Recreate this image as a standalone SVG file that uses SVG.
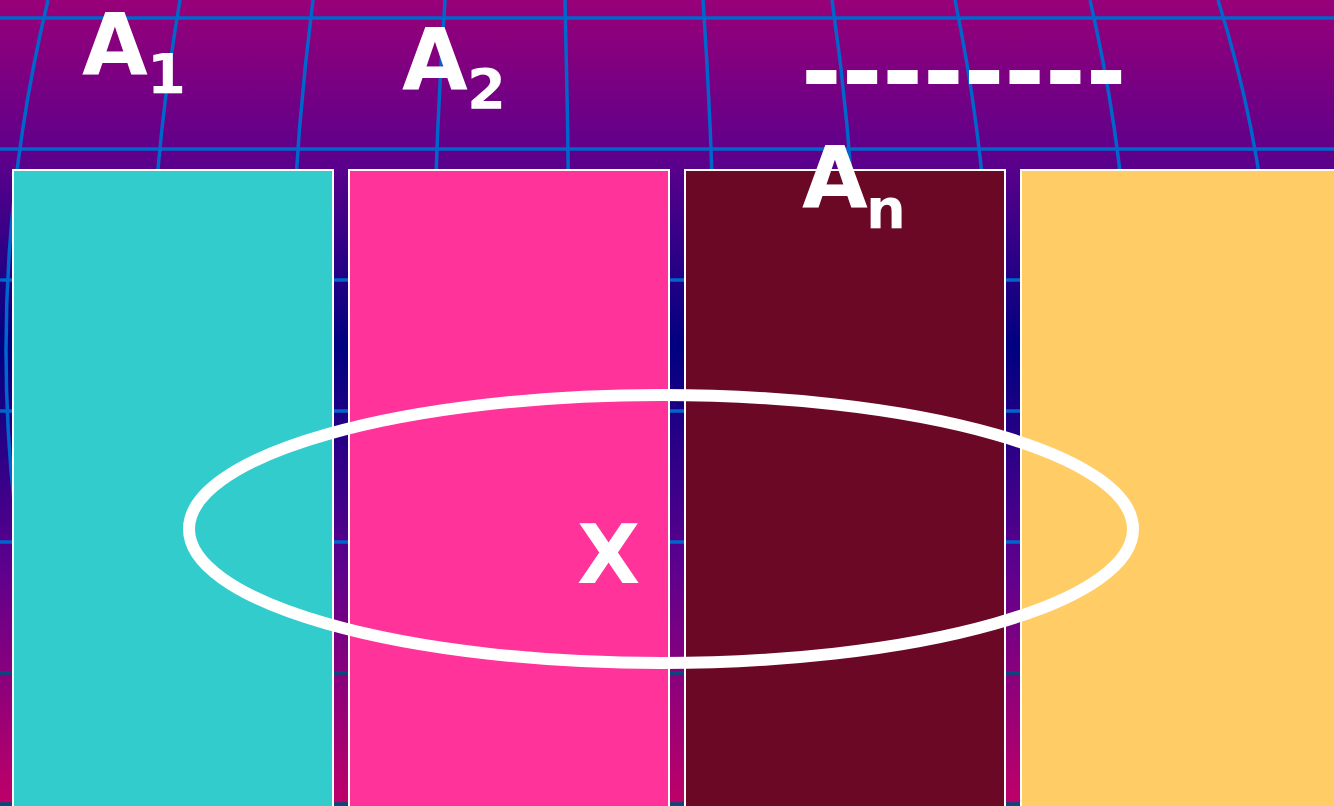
<svg xmlns="http://www.w3.org/2000/svg" width="1334" height="806" viewBox="0 0 1334 806">
  <defs>
    <linearGradient id="bg" x1="0" y1="0" x2="0" y2="806" gradientUnits="userSpaceOnUse">
      <stop offset="0" stop-color="#980078"/>
      <stop offset="0.2" stop-color="#5c008c"/>
      <stop offset="0.43" stop-color="#000080"/>
      <stop offset="0.7" stop-color="#5c008e"/>
      <stop offset="1" stop-color="#c00068"/>
    </linearGradient>
  </defs>
  <style>
    .grid { fill: none; stroke: #0066cc; stroke-width: 3.5; }
    .gridDark { fill: none; stroke: #004c7c; stroke-width: 3.5; }
    .col { stroke: #ffffff; stroke-width: 2; }
    .lbl { font-family: "DejaVu Sans", Verdana, sans-serif; font-weight: bold; fill: #ffffff; }
    .big { font-size: 85px; }
    .sub { font-size: 56px; }
  </style>
  <rect x="0" y="0" width="1334" height="806" fill="url(#bg)"/>
  <g id="grid">
    <path class="grid" d="M0 18H1334M0 149H1334M0 280H1334M0 411H1334M0 542H1334"/>
    <path class="gridDark" d="M0 673H1334M0 804H1334"/>
    <path class="grid" d="M48 0Q-36 350 48 700T48 1400"/>
    <path class="grid" d="M180 0Q120 350 180 700T180 1400"/>
    <path class="grid" d="M313 0Q268 350 313 700T313 1400"/>
    <path class="grid" d="M445 0Q421 350 445 700T445 1400"/>
    <path class="grid" d="M565 0Q574 350 565 700T565 1400"/>
    <path class="grid" d="M703 0Q727 350 703 700T703 1400"/>
    <path class="grid" d="M832 0Q883 350 832 700T832 1400"/>
    <path class="grid" d="M955 0Q1027 350 955 700T955 1400"/>
    <path class="grid" d="M1090 0Q1171 350 1090 700T1090 1400"/>
    <path class="grid" d="M1218 0Q1328 350 1218 700T1218 1400"/>
  </g>
  <g id="A1">
    <rect class="col" x="13" y="170" width="320" height="660" fill="#33cccc"/>
  </g>
  <g id="A2">
    <rect class="col" x="349" y="170" width="320" height="660" fill="#ff3399"/>
  </g>
  <g id="An">
    <rect class="col" x="685" y="170" width="320" height="660" fill="#6b0826"/>
  </g>
  <g id="Arest">
    <rect class="col" x="1021" y="170" width="320" height="660" fill="#ffcc66"/>
  </g>
  <g id="X">
    <ellipse cx="661" cy="529" rx="472" ry="134" fill="none" stroke="#ffffff" stroke-width="12"/>
    <text class="lbl" x="577" y="583" font-size="82">X</text>
  </g>
  <g id="labels">
    <text class="lbl big" x="82" y="74">A</text>
    <text class="lbl sub" x="147" y="93">1</text>
    <text class="lbl big" x="402" y="89">A</text>
    <text class="lbl sub" x="467" y="108">2</text>
    <text class="lbl big" x="802" y="207">A</text>
    <text class="lbl sub" x="866" y="228">n</text>
    <text class="lbl" x="801" y="105" font-size="98">--------</text>
  </g>
</svg>
